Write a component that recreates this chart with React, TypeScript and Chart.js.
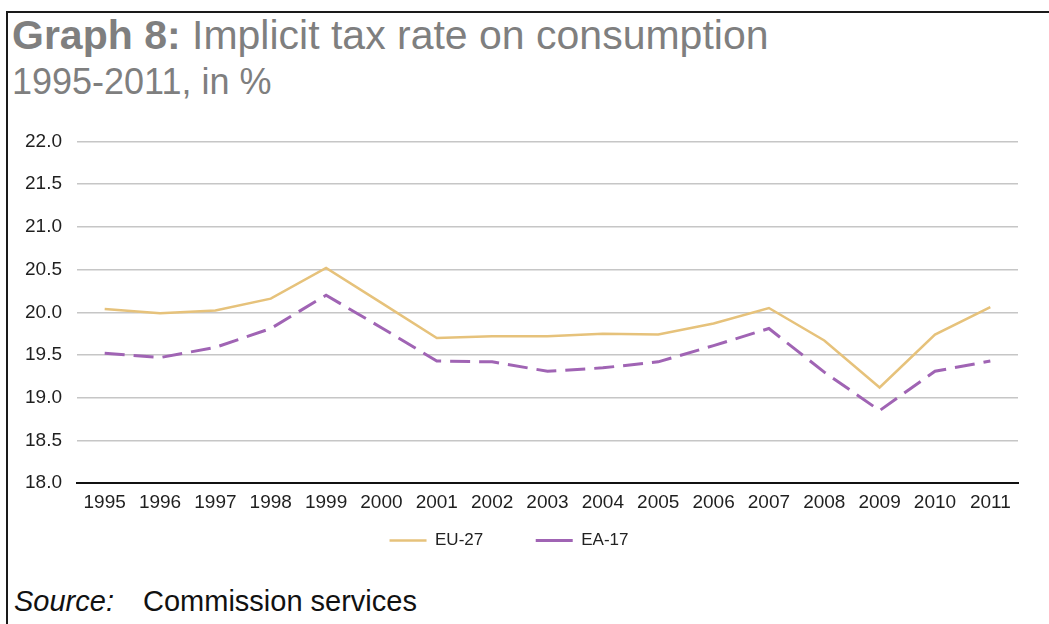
import React, { useEffect, useRef } from "react";
import { Chart, registerables } from "chart.js";

Chart.register(...registerables);

const years = ["1995", "1996", "1997", "1998", "1999", "2000", "2001", "2002", "2003", "2004", "2005", "2006", "2007", "2008", "2009", "2010", "2011"];
const eu27 = [20.04, 19.99, 20.02, 20.16, 20.52, 20.11, 19.7, 19.72, 19.72, 19.75, 19.74, 19.87, 20.05, 19.67, 19.12, 19.74, 20.06];
const ea17 = [19.52, 19.47, 19.59, 19.81, 20.2, 19.82, 19.43, 19.42, 19.31, 19.35, 19.42, 19.61, 19.81, 19.3, 18.85, 19.31, 19.43];
const seriesNames = ["EU-27", "EA-17"];
const yMin = 18;
const yMax = 22;
const yStep = 0.5;

const FONT = "'Liberation Sans', Arial, Helvetica, sans-serif";

export default function App() {
  const canvasRef = useRef<HTMLCanvasElement | null>(null);

  useEffect(() => {
    if (!canvasRef.current) return;
    const chart = new Chart(canvasRef.current, {
      type: "line",
      data: {
        labels: years,
        datasets: [
          {
            label: seriesNames[0],
            data: eu27,
            borderColor: "#E6C27B",
            backgroundColor: "#E6C27B",
            borderWidth: 2.5,
            pointRadius: 0,
            pointStyle: "line",
            tension: 0,
            fill: false,
          },
          {
            label: seriesNames[1],
            data: ea17,
            borderColor: "#A064B4",
            backgroundColor: "#A064B4",
            borderWidth: 3,
            borderDash: [20, 9],
            pointRadius: 0,
            pointStyle: "line",
            tension: 0,
            fill: false,
          },
        ],
      },
      options: {
        animation: false,
        responsive: true,
        maintainAspectRatio: false,
        layout: { padding: { top: 16, right: 31, left: 0, bottom: 0 } },
        plugins: {
          title: { display: false },
          tooltip: { enabled: false },
          legend: {
            display: true,
            position: "bottom",
            labels: {
              usePointStyle: true,
              pointStyle: "line",
              pointStyleWidth: 37,
              padding: 10,
              color: "#222",
              font: { family: FONT, size: 17 },
              generateLabels: (c: any) => {
                const items = Chart.defaults.plugins.legend.labels.generateLabels(c);
                return items.map((it: any, i: number) => ({
                  ...it,
                  text: i < items.length - 1 ? it.text + "         " : it.text,
                }));
              },
            },
          },
        },
        scales: {
          x: {
            offset: true,
            grid: { display: false, drawTicks: false },
            border: { display: true, color: "#111", width: 2 },
            ticks: {
              color: "#1f1f1f",
              font: { family: FONT, size: 19 },
              padding: 8,
              maxRotation: 0,
              autoSkip: false,
            },
          },
          y: {
            min: yMin,
            max: yMax,
            grid: { color: "#c6c6c6", lineWidth: 1.5, drawTicks: false },
            border: { display: false },
            ticks: {
              stepSize: yStep,
              color: "#1f1f1f",
              font: { family: FONT, size: 19 },
              padding: 15,
              callback: (v: any) => Number(v).toFixed(1),
            },
            afterFit: (scale: any) => {
              scale.width = 77;
            },
          },
        },
      },
    });
    return () => chart.destroy();
  }, []);

  return (
    <div
      style={{
        position: "fixed",
        left: 0,
        top: 0,
        width: 1049,
        height: 624,
        background: "#fff",
        overflow: "hidden",
        fontFamily: FONT,
      }}
    >
      <div style={{ position: "absolute", left: 7, top: 11, width: 1042, height: 2, background: "#1a1a1a" }} />
      <div style={{ position: "absolute", left: 6, top: 11, width: 2, height: 613, background: "#1a1a1a" }} />
      <div
        style={{
          position: "absolute",
          left: 12,
          top: 15,
          fontSize: 41,
          lineHeight: "41px",
          color: "#7f7f7f",
          whiteSpace: "nowrap",
        }}
      >
        <span style={{ fontWeight: "bold" }}>Graph 8:</span> Implicit tax rate on consumption
      </div>
      <div
        style={{
          position: "absolute",
          left: 12,
          top: 64,
          fontSize: 36,
          lineHeight: "36px",
          color: "#7f7f7f",
          whiteSpace: "nowrap",
        }}
      >
        1995-2011, in %
      </div>
      <div style={{ position: "absolute", left: 0, top: 115, width: 1049, height: 444 }}>
        <canvas ref={canvasRef} />
      </div>
      <div
        style={{
          position: "absolute",
          left: 14,
          top: 587,
          fontSize: 29,
          lineHeight: "29px",
          color: "#111",
          whiteSpace: "nowrap",
        }}
      >
        <span style={{ fontStyle: "italic" }}>Source:</span>
      </div>
      <div
        style={{
          position: "absolute",
          left: 143,
          top: 587,
          fontSize: 29,
          lineHeight: "29px",
          color: "#111",
          whiteSpace: "nowrap",
        }}
      >
        Commission services
      </div>
    </div>
  );
}
